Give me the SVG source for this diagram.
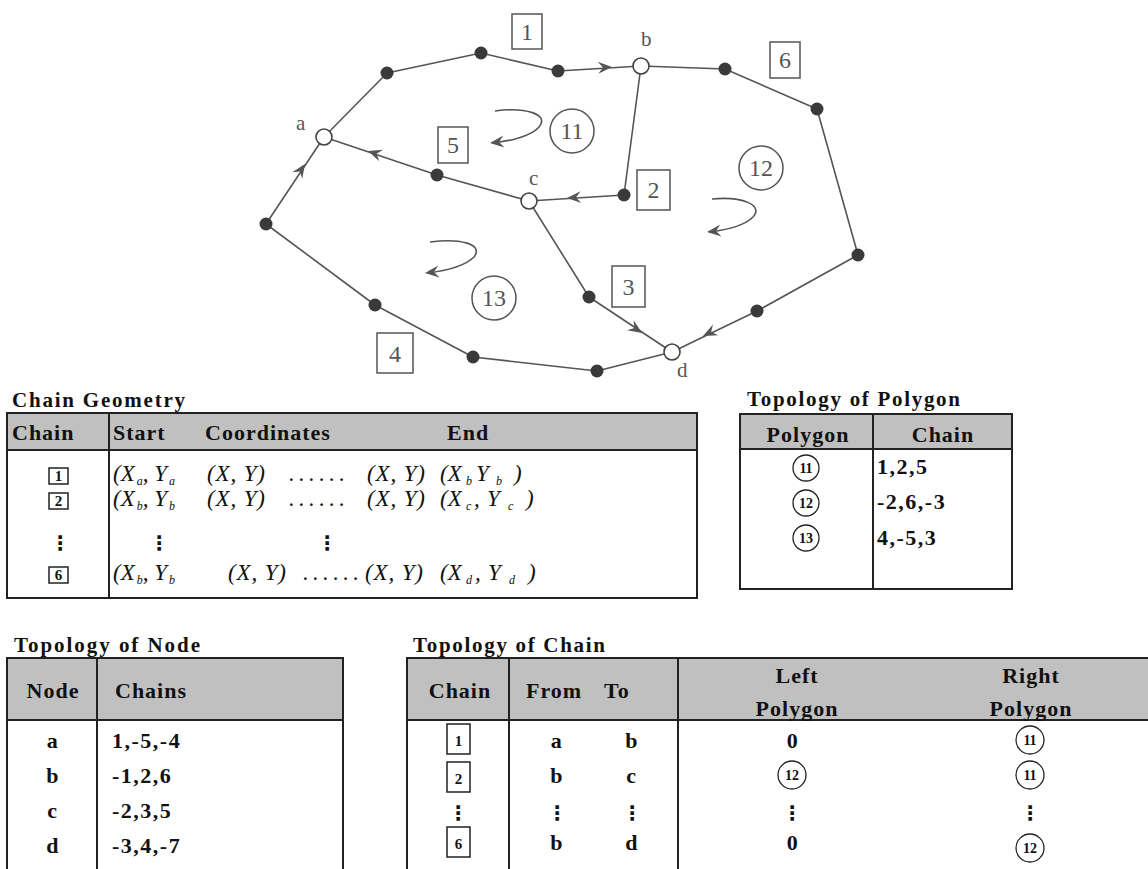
<svg xmlns="http://www.w3.org/2000/svg" width="1148" height="869" viewBox="0 0 1148 869">
<defs>
<style>
.edge{fill:none;stroke:#555;stroke-width:1.6;stroke-linejoin:round}
.vtx{fill:#3a3a3a}
.node{fill:#fff;stroke:#444;stroke-width:1.6}
.ah{fill:#555}
.lbl{font-family:"Liberation Serif",serif;font-size:24px;fill:#555;text-anchor:middle}
.nl{font-family:"Liberation Serif",serif;font-size:21px;fill:#555}
.box{fill:#fff;stroke:#555;stroke-width:1.5}
.ring{fill:none;stroke:#555;stroke-width:1.5}
.tt{font-family:"Liberation Serif",serif;font-weight:bold;font-size:21px;fill:#111}
.th{font-family:"Liberation Serif",serif;font-weight:bold;font-size:22px;letter-spacing:1px;fill:#111}
.td{font-family:"Liberation Serif",serif;font-weight:bold;font-size:22px;letter-spacing:1.5px;fill:#111}
.c{text-anchor:middle}
.mi{font-family:"Liberation Serif",serif;font-style:italic;font-size:23px;fill:#111}
.sub{font-size:12px}
.hd{fill:#c0c0c0}
.grid{fill:none;stroke:#222;stroke-width:2}
.ln{stroke:#222;stroke-width:2}
.cb{fill:#fff;stroke:#222;stroke-width:1.5}
.cbt{font-family:"Liberation Serif",serif;font-weight:bold;font-size:15px;fill:#111;text-anchor:middle}
.cc{fill:#fff;stroke:#222;stroke-width:1.3}
.cct{font-family:"Liberation Serif",serif;font-weight:bold;font-size:14px;fill:#111;text-anchor:middle}
.vd{font-family:"DejaVu Sans",sans-serif;font-weight:bold;font-size:20px;fill:#111;text-anchor:middle}
</style>
<path id="ahd" d="M0,0 L-14,-6 L-9,0 L-14,6 Z"/>
</defs>

<!-- chains of the polygon network -->
<g id="connectors">
  <polyline class="edge" points="324,137 387,73 481,53 558,71 641,66"/>
  <polyline class="edge" points="641,66 725,69 817,109 858,255 757,311 672,352"/>
  <polyline class="edge" points="641,66 624,195 529,201"/>
  <polyline class="edge" points="529,201 437,175 324,137"/>
  <polyline class="edge" points="529,201 589,297 672,352"/>
  <polyline class="edge" points="672,352 597,371 473,357 375,305 266,224 324,137"/>
  <use href="#ahd" class="ah" transform="translate(612,67) rotate(-3)"/>
  <use href="#ahd" class="ah" transform="translate(368,151) rotate(198.6)"/>
  <use href="#ahd" class="ah" transform="translate(567,198) rotate(176.4)"/>
  <use href="#ahd" class="ah" transform="translate(305,164) rotate(-56.3)"/>
  <use href="#ahd" class="ah" transform="translate(642,333) rotate(33.5)"/>
  <use href="#ahd" class="ah" transform="translate(703,336) rotate(154.2)"/>
  <!-- turning arrows inside the polygons -->
  <path class="edge" d="M495,111 C525,107 550,114 539,127 C530,137 510,141 492,143"/>
  <use href="#ahd" class="ah" transform="translate(490,143) rotate(174)"/>
  <path class="edge" d="M712,199 C742,196 764,205 753,217 C744,226 726,230 709,232"/>
  <use href="#ahd" class="ah" transform="translate(707,232) rotate(174)"/>
  <path class="edge" d="M430,242 C460,238 484,244 474,257 C464,267 444,271 427,273"/>
  <use href="#ahd" class="ah" transform="translate(425,273) rotate(174)"/>
</g>

<!-- intermediate vertices -->
<g id="vertices">
  <circle class="vtx" cx="387" cy="73" r="6.5"/>
  <circle class="vtx" cx="481" cy="53" r="6.5"/>
  <circle class="vtx" cx="558" cy="71" r="6.5"/>
  <circle class="vtx" cx="725" cy="69" r="6.5"/>
  <circle class="vtx" cx="817" cy="109" r="6.5"/>
  <circle class="vtx" cx="858" cy="255" r="6.5"/>
  <circle class="vtx" cx="757" cy="311" r="6.5"/>
  <circle class="vtx" cx="597" cy="371" r="6.5"/>
  <circle class="vtx" cx="473" cy="357" r="6.5"/>
  <circle class="vtx" cx="375" cy="305" r="6.5"/>
  <circle class="vtx" cx="266" cy="224" r="6.5"/>
  <circle class="vtx" cx="437" cy="175" r="6.5"/>
  <circle class="vtx" cx="624" cy="195" r="6.5"/>
  <circle class="vtx" cx="589" cy="297" r="6.5"/>
</g>

<g id="node-a"><circle class="node" cx="324" cy="137" r="8"/><text class="nl" x="296" y="130">a</text></g>
<g id="node-b"><circle class="node" cx="641" cy="66" r="8"/><text class="nl" x="641" y="46">b</text></g>
<g id="node-c"><circle class="node" cx="529" cy="201" r="8"/><text class="nl" x="529" y="185">c</text></g>
<g id="node-d"><circle class="node" cx="672" cy="352" r="8"/><text class="nl" x="677" y="377">d</text></g>

<g id="chain-1"><rect class="box" x="512" y="14" width="30" height="35"/><text class="lbl" x="527" y="40">1</text></g>
<g id="chain-2"><rect class="box" x="637" y="170" width="33" height="40"/><text class="lbl" x="653.5" y="198">2</text></g>
<g id="chain-3"><rect class="box" x="612" y="266" width="33" height="41"/><text class="lbl" x="628.5" y="295">3</text></g>
<g id="chain-4"><rect class="box" x="377" y="333" width="36" height="40"/><text class="lbl" x="395" y="362">4</text></g>
<g id="chain-5"><rect class="box" x="438" y="127" width="30" height="36"/><text class="lbl" x="453" y="153">5</text></g>
<g id="chain-6"><rect class="box" x="770" y="42" width="30" height="36"/><text class="lbl" x="785" y="68">6</text></g>

<g id="poly-11"><circle class="ring" cx="572" cy="131" r="22"/><text class="lbl" x="572" y="139">11</text></g>
<g id="poly-12"><circle class="ring" cx="761" cy="168" r="22"/><text class="lbl" x="761" y="176">12</text></g>
<g id="poly-13"><circle class="ring" cx="494" cy="298" r="22"/><text class="lbl" x="494" y="306">13</text></g>

<!-- Chain Geometry table -->
<g id="table-geometry">
  <text class="tt" x="12" y="407" textLength="173" lengthAdjust="spacing">Chain Geometry</text>
  <rect class="hd" x="7" y="413" width="690" height="37"/>
  <rect class="grid" x="7" y="413" width="690" height="185"/>
  <line class="ln" x1="7" y1="450" x2="697" y2="450"/>
  <line class="ln" x1="109" y1="413" x2="109" y2="598"/>
  <text class="th" x="12" y="440">Chain</text>
  <text class="th" x="113" y="440">Start</text>
  <text class="th" x="205" y="440">Coordinates</text>
  <text class="th" x="447" y="440">End</text>

  <rect class="cb" x="49" y="468" width="19" height="16"/><text class="cbt" x="58.5" y="481">1</text>
  <rect class="cb" x="49" y="493" width="19" height="16"/><text class="cbt" x="58.5" y="506">2</text>
  <text class="vd" x="60" y="550">⋮</text>
  <rect class="cb" x="49" y="567" width="19" height="16"/><text class="cbt" x="58.5" y="580">6</text>

  <text class="mi" x="113" y="481">(X<tspan class="sub" dx="2" dy="4">a</tspan><tspan dy="-4">, Y</tspan><tspan class="sub" dx="2" dy="4">a</tspan></text>
  <text class="mi" x="207" y="481" textLength="58" lengthAdjust="spacing">(X, Y)</text>
  <text class="mi" x="289" y="481" textLength="56" lengthAdjust="spacing">......</text>
  <text class="mi" x="367" y="481" textLength="58" lengthAdjust="spacing">(X, Y)</text>
  <text class="mi" x="440" y="481">(X<tspan class="sub" x="466" dy="4">b</tspan><tspan x="476" dy="-4">Y</tspan><tspan class="sub" x="496" dy="4">b</tspan><tspan x="514" dy="-4">)</tspan></text>

  <text class="mi" x="113" y="506">(X<tspan class="sub" dx="2" dy="4">b</tspan><tspan dy="-4">, Y</tspan><tspan class="sub" dx="2" dy="4">b</tspan></text>
  <text class="mi" x="207" y="506" textLength="58" lengthAdjust="spacing">(X, Y)</text>
  <text class="mi" x="289" y="506" textLength="56" lengthAdjust="spacing">......</text>
  <text class="mi" x="367" y="506" textLength="58" lengthAdjust="spacing">(X, Y)</text>
  <text class="mi" x="440" y="506">(X<tspan class="sub" x="466" dy="4">c</tspan><tspan x="474" dy="-4">,</tspan><tspan x="487">Y</tspan><tspan class="sub" x="508" dy="4">c</tspan><tspan x="526" dy="-4">)</tspan></text>

  <text class="vd" x="159" y="550">⋮</text>
  <text class="vd" x="327" y="550">⋮</text>

  <text class="mi" x="113" y="580">(X<tspan class="sub" dx="2" dy="4">b</tspan><tspan dy="-4">, Y</tspan><tspan class="sub" dx="2" dy="4">b</tspan></text>
  <text class="mi" x="228" y="580" textLength="58" lengthAdjust="spacing">(X, Y)</text>
  <text class="mi" x="303" y="580" textLength="56" lengthAdjust="spacing">......</text>
  <text class="mi" x="365" y="580" textLength="58" lengthAdjust="spacing">(X, Y)</text>
  <text class="mi" x="440" y="580">(X<tspan class="sub" x="466" dy="4">d</tspan><tspan x="475" dy="-4">,</tspan><tspan x="488">Y</tspan><tspan class="sub" x="509" dy="4">d</tspan><tspan x="528" dy="-4">)</tspan></text>
</g>

<!-- Topology of Polygon table -->
<g id="table-polygon">
  <text class="tt" x="747" y="406" textLength="213" lengthAdjust="spacing">Topology of Polygon</text>
  <rect class="hd" x="740" y="414" width="272" height="35"/>
  <rect class="grid" x="740" y="414" width="272" height="175"/>
  <line class="ln" x1="740" y1="449" x2="1012" y2="449"/>
  <line class="ln" x1="873" y1="414" x2="873" y2="589"/>
  <text class="th c" x="808" y="442">Polygon</text>
  <text class="th c" x="943" y="442">Chain</text>
  <circle class="cc" cx="806" cy="468" r="13"/><text class="cct" x="806" y="473">11</text>
  <circle class="cc" cx="806" cy="503" r="13"/><text class="cct" x="806" y="508">12</text>
  <circle class="cc" cx="806" cy="538" r="13"/><text class="cct" x="806" y="543">13</text>
  <text class="td" x="877" y="474">1,2,5</text>
  <text class="td" x="877" y="509">-2,6,-3</text>
  <text class="td" x="877" y="545">4,-5,3</text>
</g>

<!-- Topology of Node table -->
<g id="table-node">
  <text class="tt" x="14" y="652" textLength="186" lengthAdjust="spacing">Topology of Node</text>
  <rect class="hd" x="7" y="658" width="336" height="62"/>
  <rect class="grid" x="7" y="658" width="336" height="230"/>
  <line class="ln" x1="7" y1="720" x2="343" y2="720"/>
  <line class="ln" x1="97" y1="658" x2="97" y2="869"/>
  <text class="th c" x="53" y="698">Node</text>
  <text class="th" x="115" y="698">Chains</text>
  <text class="td c" x="53" y="748">a</text><text class="td" x="112" y="748">1,-5,-4</text>
  <text class="td c" x="53" y="783">b</text><text class="td" x="112" y="783">-1,2,6</text>
  <text class="td c" x="53" y="818">c</text><text class="td" x="112" y="818">-2,3,5</text>
  <text class="td c" x="53" y="853">d</text><text class="td" x="112" y="853">-3,4,-7</text>
</g>

<!-- Topology of Chain table -->
<g id="table-chain">
  <text class="tt" x="413" y="652" textLength="192" lengthAdjust="spacing">Topology of Chain</text>
  <rect class="hd" x="407" y="658" width="760" height="62"/>
  <rect class="grid" x="407" y="658" width="760" height="230"/>
  <line class="ln" x1="407" y1="720" x2="1148" y2="720"/>
  <line class="ln" x1="509" y1="658" x2="509" y2="869"/>
  <line class="ln" x1="678" y1="658" x2="678" y2="869"/>
  <text class="th c" x="460" y="698">Chain</text>
  <text class="th" x="526" y="698">From</text>
  <text class="th" x="604" y="698">To</text>
  <text class="th c" x="797" y="683">Left</text>
  <text class="th c" x="797" y="716">Polygon</text>
  <text class="th c" x="1031" y="683">Right</text>
  <text class="th c" x="1031" y="716">Polygon</text>

  <rect class="cb" x="447" y="724" width="23" height="30"/><text class="cbt" x="458.5" y="746">1</text>
  <text class="td c" x="557" y="748">a</text><text class="td c" x="632" y="748">b</text>
  <text class="td c" x="793" y="748">0</text>
  <circle class="cc" cx="1030" cy="740" r="14"/><text class="cct" x="1030" y="745">11</text>

  <rect class="cb" x="447" y="762" width="23" height="30"/><text class="cbt" x="458.5" y="784">2</text>
  <text class="td c" x="557" y="783">b</text><text class="td c" x="632" y="783">c</text>
  <circle class="cc" cx="792" cy="775" r="14"/><text class="cct" x="792" y="780">12</text>
  <circle class="cc" cx="1030" cy="775" r="14"/><text class="cct" x="1030" y="780">11</text>

  <text class="vd" x="458" y="820">⋮</text>
  <text class="vd" x="557" y="820">⋮</text>
  <text class="vd" x="632" y="820">⋮</text>
  <text class="vd" x="792" y="820">⋮</text>
  <text class="vd" x="1030" y="820">⋮</text>

  <rect class="cb" x="447" y="827" width="23" height="30"/><text class="cbt" x="458.5" y="849">6</text>
  <text class="td c" x="557" y="850">b</text><text class="td c" x="632" y="850">d</text>
  <text class="td c" x="793" y="850">0</text>
  <circle class="cc" cx="1030" cy="848" r="14"/><text class="cct" x="1030" y="853">12</text>
</g>
</svg>
